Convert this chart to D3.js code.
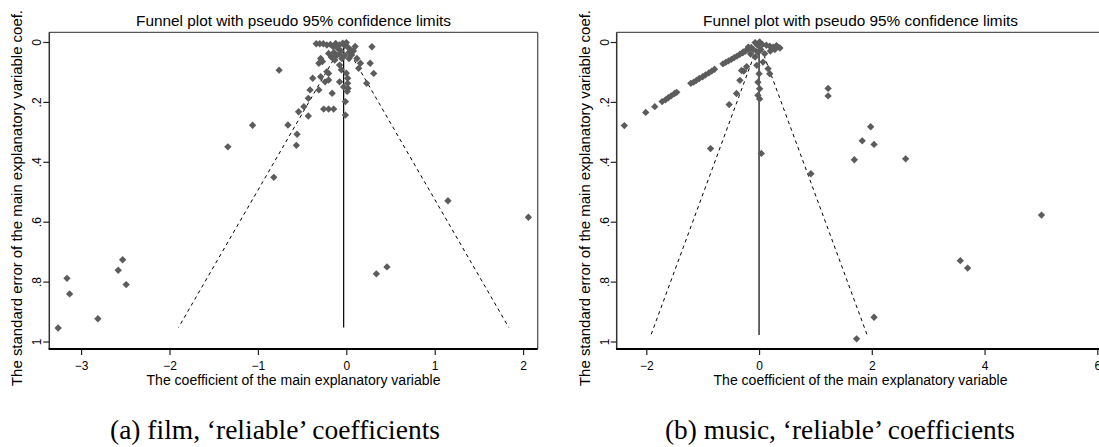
<!DOCTYPE html>
<html><head><meta charset="utf-8">
<script src="https://cdn.jsdelivr.net/npm/d3@7"></script>
<style>body{margin:0;background:#fff}svg{display:block}</style>
</head><body>
<svg id="c" width="1099" height="447"></svg>
<script>
// ---- text ----
const chartTitle = "Funnel plot with pseudo 95% confidence limits";
const xTitle = "The coefficient of the main explanatory variable";
const yTitle = "The standard error of the main explanatory variable coef.";
const captions = ["(a) film, \u2018reliable\u2019 coefficients", "(b) music, \u2018reliable\u2019 coefficients"];

// ---- ticks ----
const yTicks = [0, 0.2, 0.4, 0.6, 0.8, 1];
const yTickLabels = ["0", ".2", ".4", ".6", ".8", "1"];
const filmXTicks = [-3, -2, -1, 0, 1, 2];
const musicXTicks = [-2, 0, 2, 4, 6];

// ---- film data (coefficient, standard error) ----
const filmCoef = [
  -3.26,-3.16,-3.13,-2.81,-2.58,-2.53,-2.49,-1.34,-1.06,-0.82,-0.76,1.15,2.06,0.34,0.46,
  -0.66,-0.565,-0.557,-0.54,-0.48,-0.43,-0.43,-0.41,-0.38,-0.31,-0.29,-0.24,-0.20,-0.16,
  -0.256,-0.20,-0.143,-0.29,-0.31,-0.27,-0.20,-0.22,-0.20,
  -0.34,-0.30,-0.26,-0.22,-0.18,
  -0.15,-0.12,-0.10,-0.08,-0.06,-0.04,-0.02,0.00,0.02,-0.14,-0.11,-0.08,-0.05,0.03,0.05,0.06,0.03,0.08,-0.17,-0.13,-0.02,0.10,
  -0.076,-0.056,-0.076,0.015,0.015,0.02,0.01,-0.01,-0.01,0.00,-0.03,
  0.29,0.16,0.27,0.14,0.31,0.23,0.12
];
const filmSE = [
  0.955,0.789,0.841,0.924,0.762,0.727,0.810,0.350,0.278,0.452,0.094,0.530,0.585,0.774,0.751,
  0.277,0.345,0.308,0.233,0.216,0.247,0.188,0.160,0.121,0.160,0.116,0.133,0.127,0.171,
  0.224,0.224,0.224,0.055,0.071,0.065,0.105,0.099,0.038,
  0.006,0.006,0.006,0.010,0.008,
  0.015,0.005,0.020,0.010,0.030,0.004,0.012,0.002,0.018,0.035,0.045,0.040,0.055,0.035,0.027,0.043,0.055,0.030,0.050,0.060,0.045,0.015,
  0.077,0.093,0.133,0.121,0.138,0.155,0.165,0.199,0.244,0.104,0.150,
  0.016,0.071,0.071,0.088,0.105,0.138,0.055
];
const filmPooled = -0.03;
const filmMaxSE = 0.953;

// ---- music data (coefficient, standard error) ----
const musicCoef = [
  -2.39,-2.01,-1.85,-1.72,-1.66,-1.61,-1.56,-1.50,-1.46,
  -1.21,-1.16,-1.11,-1.06,-1.00,-0.95,-0.89,-0.84,-0.79,
  -0.64,-0.59,-0.54,-0.49,-0.44,-0.39,-0.34,-0.29,-0.24,-0.19,-0.14,
  -0.07,0.01,-0.03,0.06,0.13,0.19,0.25,0.31,0.37,-0.19,-0.10,0.03,0.10,-0.28,-0.15,-0.07,0.07,0.20,0.28,-0.02,
  -0.04,-0.31,-0.34,0.00,-0.02,0.01,-0.02,0.01,-0.40,-0.53,0.16,0.19,-0.22,-0.27,0.04,-0.86,0.92,
  1.225,1.225,1.98,1.83,2.04,1.69,2.60,5.01,3.57,3.70,2.04,1.73
];
const musicSE = [
  0.279,0.235,0.216,0.199,0.193,0.186,0.180,0.172,0.168,
  0.138,0.134,0.128,0.122,0.116,0.110,0.103,0.097,0.091,
  0.073,0.068,0.063,0.058,0.052,0.047,0.041,0.036,0.030,0.024,0.018,
  0.002,0.000,0.010,0.008,0.011,0.014,0.017,0.012,0.020,0.017,0.025,0.025,0.039,0.033,0.040,0.050,0.067,0.030,0.025,0.035,
  0.078,0.095,0.128,0.106,0.134,0.156,0.178,0.190,0.172,0.209,0.089,0.106,0.082,0.097,0.372,0.356,0.440,
  0.155,0.180,0.283,0.330,0.342,0.393,0.390,0.578,0.730,0.755,0.919,0.991
];
const musicPooled = 0.0;
const musicMaxSE = 0.978;

// ---- drawing ----
const svg = d3.select("#c");
svg.append("rect").attr("width",1099).attr("height",447).attr("fill","#fff");
const FONT = "'Liberation Sans', Arial, sans-serif";

const panels = [
  {coef: filmCoef, se: filmSE, pooled: filmPooled, maxSE: filmMaxSE, ticks: filmXTicks,
   box: {x0: 49.3, x1: 537.7, y0: 32.3, y1: 349}, xr: [81.1, 523.1], cap: captions[0], capX: 110, capW: 330},
  {coef: musicCoef, se: musicSE, pooled: musicPooled, maxSE: musicMaxSE, ticks: musicXTicks,
   box: {x0: 616.7, x1: 1104.3, y0: 32.3, y1: 349}, xr: [646.3, 1097.3], cap: captions[1], capX: 665, capW: 350}
];

panels.forEach(p => {
  const x = d3.scaleLinear().domain([p.ticks[0], p.ticks[p.ticks.length-1]]).range(p.xr);
  const y = d3.scaleLinear().domain([0, 1]).range([42, 341.5]);
  const g = svg.append("g");
  const b = p.box;
  const cx = (b.x0 + b.x1) / 2;

  // funnel lines
  const lo = p.pooled - 1.96 * p.maxSE, hi = p.pooled + 1.96 * p.maxSE;
  [lo, hi].forEach(end => {
    g.append("line")
      .attr("x1", x(p.pooled)).attr("y1", y(0))
      .attr("x2", x(end)).attr("y2", y(p.maxSE))
      .attr("stroke", "#000").attr("stroke-width", 1)
      .attr("stroke-dasharray", "3.5,3.5");
  });
  // pooled vertical line
  g.append("line")
    .attr("x1", x(p.pooled)).attr("x2", x(p.pooled))
    .attr("y1", y(0)).attr("y2", y(p.maxSE))
    .attr("stroke", "#000").attr("stroke-width", 1.2);

  // points
  const pts = p.coef.map((c, i) => [c, p.se[i]]);
  const sym = d3.symbol().type(d3.symbolSquare).size(27);
  g.selectAll("path.pt").data(pts).enter().append("path")
    .attr("class", "pt")
    .attr("d", sym)
    .attr("transform", d => `translate(${x(d[0])},${y(d[1])}) rotate(45)`)
    .attr("fill", "#5c5c5c");

  // frame
  g.append("line").attr("x1", b.x0).attr("x2", b.x1).attr("y1", b.y0).attr("y2", b.y0)
    .attr("stroke", "#555").attr("stroke-width", 1.3);
  g.append("line").attr("x1", b.x1).attr("x2", b.x1).attr("y1", b.y0).attr("y2", b.y1)
    .attr("stroke", "#555").attr("stroke-width", 1.3);
  g.append("line").attr("x1", b.x0).attr("x2", b.x0).attr("y1", b.y0).attr("y2", b.y1)
    .attr("stroke", "#333").attr("stroke-width", 1.5);

  // y axis
  const ya = g.append("g").attr("transform", `translate(${b.x0},0)`)
    .call(d3.axisLeft(y).tickValues(yTicks).tickFormat((d, i) => yTickLabels[i]).tickSize(6));
  ya.select(".domain").remove();
  ya.selectAll(".tick line").attr("stroke", "#222").attr("stroke-width", 1.2);
  ya.selectAll(".tick text")
    .attr("x", 0).attr("dy", 0).attr("text-anchor", "middle")
    .attr("transform", "translate(-8,0) rotate(-90)")
    .attr("font-family", FONT).attr("font-size", 12).attr("fill", "#000");

  // x axis
  const xa = g.append("g").attr("transform", `translate(0,${b.y1})`)
    .call(d3.axisBottom(x).tickValues(p.ticks).tickFormat(d3.format("d")).tickSize(6));
  xa.select(".domain").remove();
  xa.selectAll(".tick line").attr("stroke", "#222").attr("stroke-width", 1.2);
  xa.selectAll(".tick text").attr("y", 0).attr("dy", 0)
    .attr("transform", "translate(0,21)")
    .attr("font-family", FONT).attr("font-size", 12).attr("fill", "#000");
  g.append("line").attr("x1", b.x0 - 0.7).attr("x2", b.x1).attr("y1", b.y1).attr("y2", b.y1)
    .attr("stroke", "#000").attr("stroke-width", 2.2);

  // titles
  g.append("text").attr("x", cx).attr("y", 26).attr("text-anchor", "middle")
    .attr("font-family", FONT).attr("font-size", 14.5).attr("fill", "#000")
    .attr("textLength", 315).attr("lengthAdjust", "spacingAndGlyphs")
    .text(chartTitle);
  g.append("text").attr("x", cx).attr("y", 385).attr("text-anchor", "middle")
    .attr("font-family", FONT).attr("font-size", 14).attr("fill", "#000")
    .attr("textLength", 294).attr("lengthAdjust", "spacingAndGlyphs")
    .text(xTitle);
  g.append("text").attr("transform", `translate(${b.x0 - 27},198) rotate(-90)`)
    .attr("text-anchor", "middle")
    .attr("font-family", FONT).attr("font-size", 14).attr("fill", "#000")
    .attr("textLength", 376).attr("lengthAdjust", "spacingAndGlyphs")
    .text(yTitle);

  // caption
  svg.append("text").attr("x", p.capX).attr("y", 439)
    .attr("font-family", "'Liberation Serif', 'DejaVu Serif', serif").attr("font-size", 27).attr("fill", "#000")
    .attr("textLength", p.capW).attr("lengthAdjust", "spacingAndGlyphs")
    .text(p.cap);
});
</script>
</body></html>
